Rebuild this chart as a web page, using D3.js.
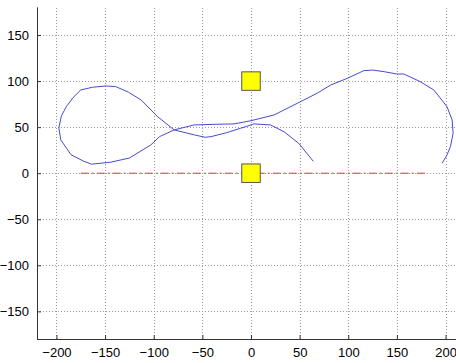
<!DOCTYPE html>
<html>
<head>
<meta charset="utf-8">
<script src="https://cdn.jsdelivr.net/npm/d3@7"></script>
<style>
  body { margin: 0; background: #fff; }
  svg { display: block; }
  .tick text { font-family: Arial, "Liberation Sans", sans-serif; font-size: 13px; fill: #000; }
</style>
</head>
<body>
<div id="chart"></div>
<script>
// trajectory
const pathX = [64, 49, 34, 20, 3, -10.6, -25, -41, -47, -58, -79, -96, -113, -126, -139, -149, -163, -175, -183, -190, -195, -197.5, -195.5, -185, -172, -164, -144, -125, -103, -94, -79, -58.5, -40, -17.5, 0, 23.6, 47.6, 68, 82, 99, 116, 125, 137, 150, 157, 174, 188, 201.5, 206.8, 207.8, 205, 201.5, 196.5];
const pathY = [13, 32.5, 45, 52.4, 53.5, 48.8, 44, 39.7, 39, 41.5, 47, 61.4, 79.5, 88, 94, 94.7, 93.3, 90.4, 82, 72, 62, 49, 36, 20, 13, 9.8, 12, 16.5, 30.7, 39.7, 47, 52.4, 53, 53.5, 57, 63.2, 75.9, 86.8, 95.8, 103, 111.3, 112, 110.2, 107.7, 107.7, 99.4, 90.3, 72.2, 57.8, 43.4, 28.9, 19.8, 10.8];

// reference line
const refX = [-175, 180];
const refY = [0, 0];

// square markers
const boxX = [0, 0];
const boxY = [100, 0];

const xTicks = [-200, -150, -100, -50, 0, 50, 100, 150, 200];
const yTicks = [-150, -100, -50, 0, 50, 100, 150];

const width = 456, height = 363;

const x = d3.scaleLinear().domain([-220, 220]).range([37, 465]);
const y = d3.scaleLinear().domain([-180, 180]).range([339, 7.4]);

const svg = d3.select("#chart").append("svg")
  .attr("width", width)
  .attr("height", height);

// grid
const grid = svg.append("g")
  .attr("stroke", "#999")
  .attr("stroke-width", 1)
  .attr("stroke-dasharray", "1,2");

grid.selectAll("line.gx")
  .data(xTicks)
  .join("line")
  .attr("class", "gx")
  .attr("x1", d => Math.round(x(d)) + 0.5)
  .attr("x2", d => Math.round(x(d)) + 0.5)
  .attr("y1", y(-180))
  .attr("y2", y(180));

grid.selectAll("line.gy")
  .data(yTicks)
  .join("line")
  .attr("class", "gy")
  .attr("y1", d => Math.round(y(d)) + 0.5)
  .attr("y2", d => Math.round(y(d)) + 0.5)
  .attr("x1", x(-220))
  .attr("x2", x(220));

// axes
const xAxis = d3.axisBottom(x).tickValues(xTicks).tickSize(-4).tickPadding(9);
const yAxis = d3.axisLeft(y).tickValues(yTicks).tickSize(-4).tickPadding(8);

svg.append("g")
  .attr("transform", `translate(0,${y(-180)})`)
  .call(xAxis)
  .call(g => g.select(".domain").attr("d", `M${x(-220)},0.5H${width + 20}`))
  .call(g => g.selectAll("path, line").attr("stroke", "#333"));

svg.append("g")
  .attr("transform", `translate(${x(-220)},0)`)
  .call(yAxis)
  .call(g => g.select(".domain").attr("d", `M0.5,${y(-180)}V${y(180)}`))
  .call(g => g.selectAll("path, line").attr("stroke", "#333"));

// reference dash-dot line
svg.append("line")
  .attr("x1", x(refX[0]))
  .attr("y1", y(refY[0]))
  .attr("x2", x(refX[1]))
  .attr("y2", y(refY[1]))
  .attr("stroke", "#c8463c")
  .attr("stroke-width", 1)
  .attr("stroke-dasharray", "8,3,2,3");

// trajectory
const pts = pathX.map((d, i) => [d, pathY[i]]);
svg.append("path")
  .datum(pts)
  .attr("fill", "none")
  .attr("stroke", "#4a4ad0")
  .attr("stroke-width", 1)
  .attr("d", d3.line().x(d => x(d[0])).y(d => y(d[1])));

// squares
const s = 18.5;
svg.selectAll("rect.box")
  .data(boxX.map((d, i) => [d, boxY[i]]))
  .join("rect")
  .attr("class", "box")
  .attr("x", d => x(d[0]) - s / 2)
  .attr("y", d => y(d[1]) - s / 2)
  .attr("width", s)
  .attr("height", s)
  .attr("fill", "#ffff00")
  .attr("stroke", "#555")
  .attr("stroke-width", 1);
</script>
</body>
</html>
